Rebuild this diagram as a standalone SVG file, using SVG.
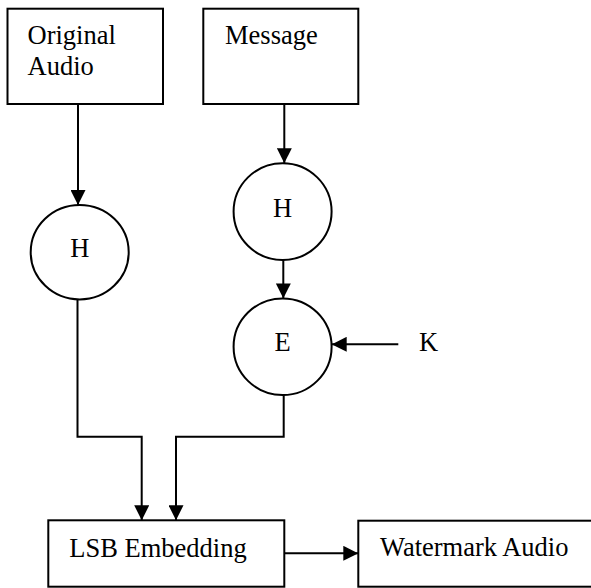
<svg xmlns="http://www.w3.org/2000/svg" width="591" height="588" viewBox="0 0 591 588">
  <style>
    .box { fill: #ffffff; stroke: #000000; stroke-width: 2; }
    .node-c { fill: #ffffff; stroke: #000000; stroke-width: 2; }
    .lbl { font-family: "Liberation Serif", "Times New Roman", serif; font-size: 26.5px; fill: #000000; }
    .wire { fill: none; stroke: #000000; stroke-width: 2; }
  </style>
  <defs>
    <marker id="arrow" markerUnits="userSpaceOnUse" markerWidth="15" markerHeight="15" refX="15" refY="7.5" orient="auto">
      <path d="M0,0 L15,7.5 L0,15 Z" fill="#000000"/>
    </marker>
  </defs>
  <rect width="591" height="588" fill="#ffffff"/>

  <g id="original-audio">
    <rect class="box" x="7.5" y="8.7" width="155.5" height="95.3"/>
    <text class="lbl" x="27.5" y="44.3">Original</text>
    <text class="lbl" x="27.5" y="75">Audio</text>
  </g>

  <g id="message">
    <rect class="box" x="203.3" y="8.7" width="155" height="95.3"/>
    <text class="lbl" x="225" y="44.3">Message</text>
  </g>

  <g id="hash-audio">
    <ellipse class="node-c" cx="79.7" cy="252.2" rx="49" ry="47.2"/>
    <text class="lbl" x="79.7" y="257.3" text-anchor="middle">H</text>
  </g>

  <g id="hash-message">
    <ellipse class="node-c" cx="282.6" cy="211.6" rx="49" ry="48.4"/>
    <text class="lbl" x="282.6" y="216.7" text-anchor="middle">H</text>
  </g>

  <g id="encrypt">
    <ellipse class="node-c" cx="282.6" cy="346.7" rx="49" ry="48.3"/>
    <text class="lbl" x="282.6" y="351" text-anchor="middle">E</text>
  </g>

  <g id="key">
    <text class="lbl" x="419" y="351">K</text>
  </g>

  <g id="lsb-embedding">
    <rect class="box" x="48.3" y="520.3" width="236" height="66.4"/>
    <text class="lbl" x="69.3" y="556.7">LSB Embedding</text>
  </g>

  <g id="watermark-audio">
    <rect class="box" x="358.3" y="520.7" width="240" height="66"/>
    <text class="lbl" x="380" y="556">Watermark Audio</text>
  </g>

  <g id="connectors">
    <line class="wire" x1="78" y1="104" x2="78" y2="205" marker-end="url(#arrow)"/>
    <line class="wire" x1="284.3" y1="104" x2="284.3" y2="163.2" marker-end="url(#arrow)"/>
    <line class="wire" x1="283.3" y1="260" x2="283.3" y2="298.4" marker-end="url(#arrow)"/>
    <line class="wire" x1="398.3" y1="344.3" x2="331.7" y2="344.3" marker-end="url(#arrow)"/>
    <polyline class="wire" points="77.5,299.4 77.5,436.7 141.7,436.7 141.7,520.3" marker-end="url(#arrow)"/>
    <polyline class="wire" points="283.7,395 283.7,436.7 176,436.7 176,520.3" marker-end="url(#arrow)"/>
    <line class="wire" x1="284.3" y1="553.3" x2="358.3" y2="553.3" marker-end="url(#arrow)"/>
  </g>
</svg>
